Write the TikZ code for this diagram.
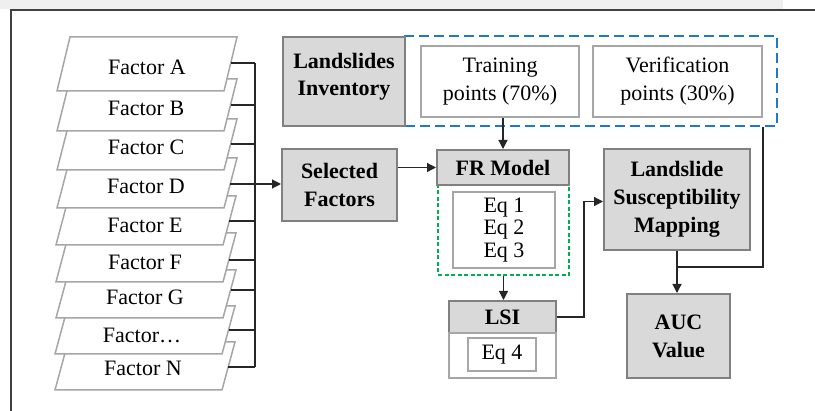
\documentclass[tikz,border=0pt]{standalone}
\usepackage{fontspec}
\setmainfont{Liberation Serif}
\usetikzlibrary{arrows.meta,calc}
\definecolor{boxgray}{HTML}{D9D9D9}
\definecolor{bordergray}{HTML}{808080}
\definecolor{lightborder}{HTML}{A6A6A6}
\definecolor{dashblue}{HTML}{1F78C8}
\definecolor{dashgreen}{HTML}{00B050}
\definecolor{framegray}{HTML}{404040}
\definecolor{stripgray}{HTML}{EFEFEF}
\begin{document}
\begin{tikzpicture}[x=1pt,y=-1pt,
  font=\fontsize{22pt}{28pt}\selectfont,
  graybox/.style={draw=bordergray,line width=2pt,fill=boxgray,inner sep=0pt,align=center,font=\fontsize{22pt}{28pt}\selectfont\bfseries},
  whitebox/.style={draw=lightborder,line width=2pt,fill=white,inner sep=0pt,align=center},
  factorshape/.style={draw=lightborder,line width=1.5pt,fill=white,line join=miter},
  conn/.style={draw=black!85,line width=1.2pt},
  arr/.style={conn,-{Triangle[length=9pt,width=9pt]}},
]
\useasboundingbox (0,0) rectangle (815,411);
\fill[white] (0,0) rectangle (815,411);
\fill[stripgray] (0,0) rectangle (783,9.5);
\draw[framegray,line width=1.5pt] (11,411) -- (11,10) -- (815,10);

% factor layers (drawn from bottom to top)
\foreach \n/\lab/\t/\b/\cy/\ty/\tx/\dx in {
  N/Factor N/342/390/367/368/143/-2,
  dots/Factor…/306/354/330/335/142/-2,
  G/Factor G/270/318/290/297/145/-1,
  F/Factor F/233/282/260/262/145/-1,
  E/Factor E/196/245/221/225/145/-1,
  D/Factor D/158/208/184/186/146/0,
  C/Factor C/119/170/144/147/146/0,
  B/Factor B/79/131/105/108/146/0,
  A/Factor A/37/91/63/67/147/0}
{
  \draw[factorshape] (57+\dx,\b) -- (224+\dx,\b) -- (237+\dx,\t) -- (70+\dx,\t) -- cycle;
  \node (f\n) at (\tx,\ty) {\lab};
  \coordinate (c\n) at ({224+\dx+13*(\b-\cy)/(\b-\t)},\cy);
}
\coordinate (bus) at (255,0);
\foreach \n in {A,B,C,E,F,G,dots,N} \draw[conn] (c\n) -- (c\n -| bus);
\draw[conn] (cA -| bus) -- (cN -| bus);

% boxes
\node[draw=dashblue,line width=2pt,dash pattern=on 10pt off 5pt,minimum width=372pt,minimum height=90pt,inner sep=0pt] (blue) at (591,81) {};
\node[graybox,minimum width=122pt,minimum height=89pt] (inv) at (344,81.5) {};
\node[font=\fontsize{22pt}{27pt}\selectfont\bfseries,align=center] (invtxt) at (344,77) {Landslides\\Inventory};
\node[whitebox,minimum width=158pt,minimum height=71pt] (train) at (500,81.5) {Training\\points (70\%)};
\node[whitebox,minimum width=169pt,minimum height=71pt] (verif) at (677.5,81.5) {Verification\\points (30\%)};

\node[graybox,minimum width=115pt,minimum height=72pt] (sel) at (339.5,185) {Selected\\Factors};

\node[draw=dashgreen,line width=1.6pt,dash pattern=on 4pt off 2.5pt,minimum width=131pt,minimum height=90pt,inner sep=0pt] (green) at (503.5,230) {};
\node[graybox,minimum width=132pt,minimum height=35pt] (fr) at (503,167.5) {FR Model};
\node[whitebox,minimum width=102pt,minimum height=76pt,font=\fontsize{22pt}{22.5pt}\selectfont] (eqs) at (504,230) {Eq 1\\Eq 2\\Eq 3};

\node[graybox,minimum width=107pt,minimum height=32pt] (lsi) at (502.5,317) {LSI};
\node[whitebox,minimum width=107pt,minimum height=45pt] (lsibody) at (502.5,355.5) {};
\node[whitebox,minimum width=68pt,minimum height=33pt] (eq4) at (502,354.5) {Eq 4};

\node[graybox,minimum width=146pt,minimum height=101pt] (lsm) at (677,199.5) {Landslide\\Susceptibility\\Mapping};
\node[graybox,minimum width=103pt,minimum height=84pt] (auc) at (678.5,336) {AUC\\Value};

% connectors
\draw[arr] (cD) -- (cD -| sel.west);
\draw[arr] (sel.east |- fr.west) -- (fr.west);
\draw[arr] (fr.north |- train.south) -- (fr.north);
\draw[arr] (green.south) -- (green.south |- lsi.north);
\coordinate (lsielbow) at (584,0);
\draw[arr] (lsi.east) -- (lsi.east -| lsielbow) |- ([yshift=-2pt]lsm.west);
\draw[arr] (lsm.south) -- (lsm.south |- auc.north);
\coordinate (join) at (0,267);
\draw[conn] (verif.east |- blue.south) -- (verif.east |- join) -- (lsm.south |- join);
\end{tikzpicture}
\end{document}
